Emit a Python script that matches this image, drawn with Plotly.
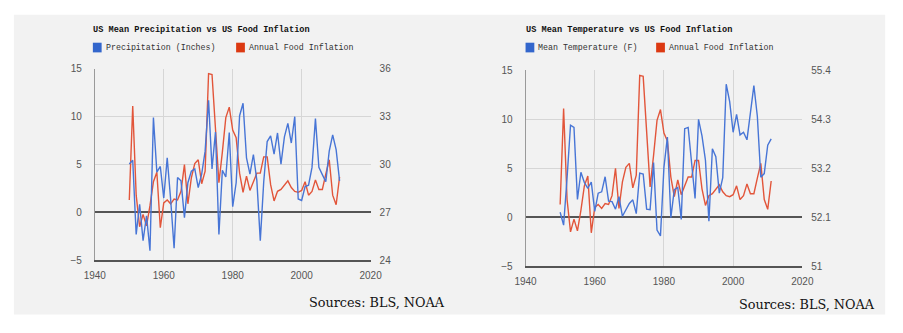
import plotly.graph_objects as go

years = list(range(1950, 2012))

food_inflation = [1.3, 11.1, 1.8, -1.5, -0.2, -1.4, 0.7, 3.2, 4.2, -1.6,
                  1.0, 1.3, 0.9, 1.4, 1.3, 2.2, 5.0, 0.9, 3.6, 5.1,
                  5.5, 3.0, 4.3, 14.5, 14.4, 8.5, 3.1, 6.3, 9.9, 11.0,
                  8.6, 7.8, 4.1, 2.1, 3.8, 2.3, 3.2, 4.1, 4.1, 5.8,
                  5.8, 2.9, 1.2, 2.2, 2.4, 2.8, 3.3, 2.6, 2.2, 2.1,
                  2.3, 3.2, 1.8, 2.2, 3.4, 2.4, 2.4, 4.0, 5.5, 1.8,
                  0.8, 3.7]

precip_inches = [30.03, 30.27, 25.62, 27.51, 25.23, 26.79, 24.60, 32.94, 29.52, 29.88,
                 27.90, 30.42, 27.81, 24.75, 29.19, 28.98, 26.67, 28.86, 29.58, 29.73,
                 28.56, 29.40, 30.84, 34.02, 29.73, 32.04, 25.62, 29.64, 29.22, 32.01,
                 27.36, 28.86, 33.06, 33.84, 30.42, 29.40, 30.63, 29.01, 25.23, 28.92,
                 31.44, 31.80, 30.66, 31.98, 30.03, 31.74, 32.58, 31.35, 33.00, 27.84,
                 27.75, 28.62, 28.71, 29.82, 32.88, 29.82, 29.37, 28.92, 30.84, 31.86,
                 30.93, 28.98]

mean_temp_f = [52.21, 51.92, 52.98, 54.17, 54.12, 52.50, 53.11, 52.88, 52.75, 52.89,
               52.23, 52.64, 52.67, 53.01, 52.46, 52.45, 52.28, 52.56, 52.12, 52.28,
               52.41, 52.49, 52.18, 53.09, 53.07, 52.28, 52.27, 53.33, 51.81, 51.68,
               53.22, 53.90, 52.09, 52.72, 52.77, 52.05, 54.09, 54.12, 53.28, 52.52,
               54.30, 53.93, 53.38, 52.01, 53.64, 53.46, 52.64, 52.99, 55.09, 54.70,
               54.01, 54.41, 53.95, 54.01, 53.84, 54.45, 55.06, 54.37, 53.00, 53.08,
               53.72, 53.86]

infl_ticks = [-5, 0, 5, 10, 15]
precip_ticks = [24, 27, 30, 33, 36]
temp_ticks = [51, 52.1, 53.2, 54.3, 55.4]
temp_ticktext = ["51", "52.1", "53.2", "54.3", "55.4"]
x_ticks = [1940, 1960, 1980, 2000, 2020]

titles = ["US Mean Precipitation vs US Food Inflation",
          "US Mean Temperature vs US Food Inflation"]
legend_left = ["Precipitation (Inches)", "Annual Food Inflation"]
legend_right = ["Mean Temperature (F)", "Annual Food Inflation"]
source_text = "Sources: BLS, NOAA"

W, H = 903, 333
BLUE = "#3366cc"
RED = "#dc3912"
BLUE_LINE = "#4775d6"
RED_LINE = "#e2553a"


def px(x):
    return x / W


def py(y):
    return 1 - y / H


fig = go.Figure()

fig.add_trace(go.Scatter(x=years, y=precip_inches, mode="lines", xaxis="x", yaxis="y2",
                         line=dict(color=BLUE_LINE, width=1.4), showlegend=False))
fig.add_trace(go.Scatter(x=years, y=food_inflation, mode="lines", xaxis="x", yaxis="y",
                         line=dict(color=RED_LINE, width=1.4), showlegend=False))
fig.add_trace(go.Scatter(x=years, y=mean_temp_f, mode="lines", xaxis="x2", yaxis="y4",
                         line=dict(color=BLUE_LINE, width=1.4), showlegend=False))
fig.add_trace(go.Scatter(x=years, y=food_inflation, mode="lines", xaxis="x2", yaxis="y3",
                         line=dict(color=RED_LINE, width=1.4), showlegend=False))

tickfont = dict(family="Liberation Sans", size=10, color="#555555")
grid = "#d6d6d6"

xcommon = dict(range=[1940, 2020], tickvals=x_ticks, showgrid=True, gridcolor=grid,
               gridwidth=1, showline=True, linecolor="#555555", linewidth=1.5,
               zeroline=False, ticks="", tickfont=tickfont, fixedrange=True,
               ticklabelstandoff=5)
ycommon = dict(range=[-5, 15], tickvals=infl_ticks, showgrid=True, gridcolor=grid,
               zeroline=True, zerolinecolor="#555555", zerolinewidth=1.5,
               showline=True, linecolor="#9a9a9a", linewidth=1, ticks="",
               tickfont=tickfont, ticklabelstandoff=10)

fig.update_layout(
    width=W, height=H,
    margin=dict(l=0, r=0, t=0, b=0),
    paper_bgcolor="white",
    plot_bgcolor="#efefef",
    xaxis=dict(domain=[px(86), px(369)], anchor="y", **xcommon),
    yaxis=dict(domain=[py(264), py(66)], anchor="x", **ycommon),
    yaxis2=dict(range=[24, 36], tickvals=precip_ticks, overlaying="y", side="right",
                anchor="x", showgrid=False, zeroline=False, showline=False, ticks="",
                tickfont=tickfont, ticklabelstandoff=8),
    xaxis2=dict(domain=[px(528), px(812)], anchor="y3", **xcommon),
    yaxis3=dict(domain=[py(270), py(67.7)], anchor="x2", **ycommon),
    yaxis4=dict(range=[51, 55.4], tickvals=temp_ticks, ticktext=temp_ticktext,
                overlaying="y3", side="right", anchor="x2", showgrid=False,
                zeroline=False, showline=False, ticks="", tickfont=tickfont,
                ticklabelstandoff=8),
)

shapes = [dict(type="rect", xref="paper", yref="paper", x0=px(3), x1=px(897),
               y0=py(320), y1=py(10), fillcolor="#f2f2f2", line=dict(width=0),
               layer="below")]
annotations = []

title_font = dict(family="Liberation Mono", size=8.6, color="#111111")
legend_font = dict(family="Liberation Mono", size=8.3, color="#333333")


def add_header(x0, title, labels, red_x):
    annotations.append(dict(text="<b>" + title + "</b>", x=px(x0 - 1), y=py(26), xref="paper",
                            yref="paper", xanchor="left", yanchor="middle",
                            showarrow=False, font=title_font))
    for sx, color, label in [(x0 + 1, BLUE, labels[0]), (red_x, RED, labels[1])]:
        shapes.append(dict(type="rect", xref="paper", yref="paper", x0=px(sx), x1=px(sx + 9),
                           y0=py(49), y1=py(39), fillcolor=color, line=dict(width=0)))
        annotations.append(dict(text=label, x=px(sx + 11), y=py(44), xref="paper",
                                yref="paper", xanchor="left", yanchor="middle",
                                showarrow=False, font=legend_font))


add_header(83, titles[0], legend_left, 231)
add_header(527, titles[1], legend_right, 662)

src_font = dict(family="DejaVu Serif", size=12.8, color="#111111")
annotations.append(dict(text=source_text, x=px(447), y=py(308), xref="paper", yref="paper",
                        xanchor="right", yanchor="middle", showarrow=False, font=src_font))
annotations.append(dict(text=source_text, x=px(889), y=py(310), xref="paper", yref="paper",
                        xanchor="right", yanchor="middle", showarrow=False, font=src_font))

fig.update_layout(shapes=shapes, annotations=annotations)

fig.write_html("out.html")
